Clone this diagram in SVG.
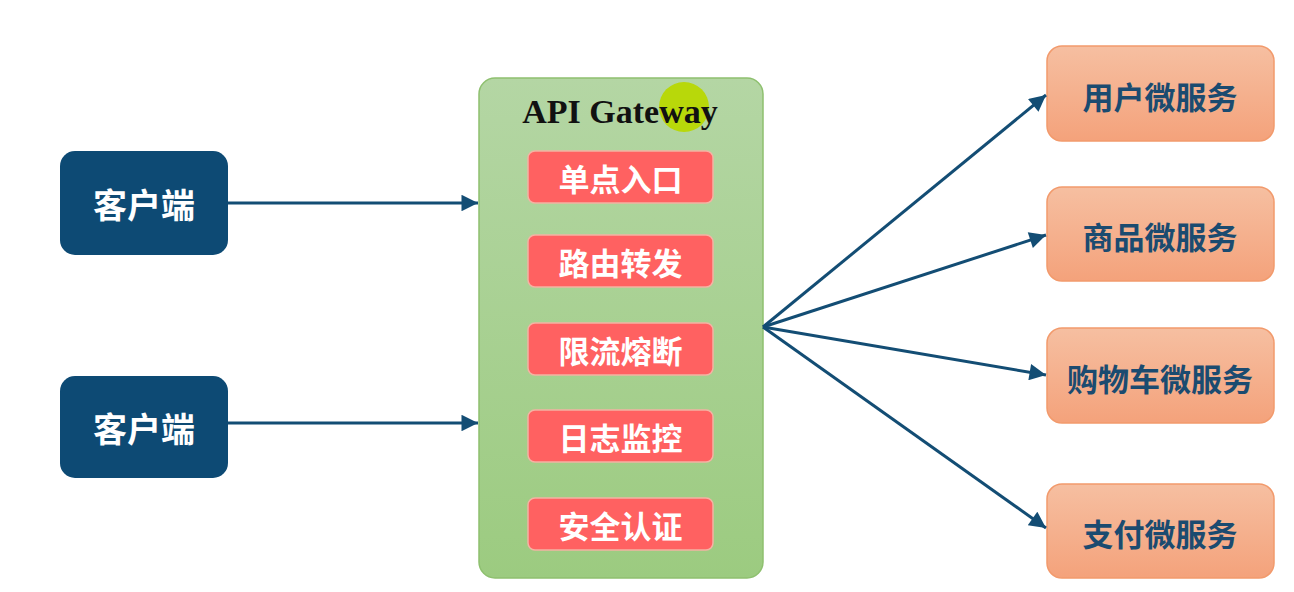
<svg xmlns="http://www.w3.org/2000/svg" width="1294" height="592" viewBox="0 0 1294 592">
<style>
.cn{font-family:"Noto Sans CJK SC","Noto Sans",sans-serif;font-weight:bold;text-anchor:middle;dominant-baseline:central}
.client rect{fill:#0d4a74}
.client text{fill:#ffffff;font-size:34px}
.svc rect{fill:url(#gSvc);stroke:#f29a6c;stroke-width:1.5}
.svc text{fill:#1b4b70;font-size:31px}
.feat rect{fill:#ff6161;stroke:#f4b3a3;stroke-width:1.5}
.feat text{fill:#ffffff;font-size:31px}
.conn line{stroke:#134d74;stroke-width:3;fill:none}
</style>
<defs>
<linearGradient id="gSvc" x1="0" y1="0" x2="0" y2="1">
<stop offset="0" stop-color="#f6bfa1"/>
<stop offset="1" stop-color="#f4a27b"/>
</linearGradient>
<linearGradient id="gGw" x1="0" y1="0" x2="0" y2="1">
<stop offset="0" stop-color="#b4d6a4"/>
<stop offset="1" stop-color="#9ccb80"/>
</linearGradient>
<marker id="arr" viewBox="0 0 10 10" refX="10" refY="5" markerWidth="6" markerHeight="5.5" orient="auto" markerUnits="strokeWidth">
<path d="M0,0 L10,5 L0,10 z" fill="#134d74"/>
</marker>
</defs>
<rect width="1294" height="592" fill="#ffffff"/>

<g id="gateway">
<rect x="479" y="78" width="284" height="500" rx="16" fill="url(#gGw)" stroke="#8ec06f" stroke-width="1.5"/>
<circle cx="684" cy="107" r="25" fill="#b8d80a"/>
<text x="620" y="123" font-family="'Liberation Serif',serif" font-weight="bold" font-size="34" text-anchor="middle" fill="#111111">API Gateway</text>
</g>

<g id="feat1" class="feat"><rect x="528" y="151" width="185" height="52" rx="7"/><text class="cn" x="620.5" y="177">单点入口</text></g>
<g id="feat2" class="feat"><rect x="528" y="235" width="185" height="52" rx="7"/><text class="cn" x="620.5" y="261">路由转发</text></g>
<g id="feat3" class="feat"><rect x="528" y="323" width="185" height="52" rx="7"/><text class="cn" x="620.5" y="349">限流熔断</text></g>
<g id="feat4" class="feat"><rect x="528" y="410" width="185" height="52" rx="7"/><text class="cn" x="620.5" y="436">日志监控</text></g>
<g id="feat5" class="feat"><rect x="528" y="498" width="185" height="52" rx="7"/><text class="cn" x="620.5" y="524">安全认证</text></g>

<g id="client1" class="client"><rect x="60" y="151" width="168" height="104" rx="15"/><text class="cn" x="144" y="203">客户端</text></g>
<g id="client2" class="client"><rect x="60" y="376" width="168" height="102" rx="15"/><text class="cn" x="144" y="427">客户端</text></g>

<g id="svc1" class="svc"><rect x="1047" y="46" width="227" height="95" rx="15"/><text class="cn" x="1160" y="95">用户微服务</text></g>
<g id="svc2" class="svc"><rect x="1047" y="187" width="227" height="94" rx="15"/><text class="cn" x="1160" y="235">商品微服务</text></g>
<g id="svc3" class="svc"><rect x="1047" y="328" width="227" height="95" rx="15"/><text class="cn" x="1160" y="377">购物车微服务</text></g>
<g id="svc4" class="svc"><rect x="1047" y="484" width="227" height="94" rx="15"/><text class="cn" x="1160" y="532">支付微服务</text></g>

<g id="connectors" class="conn">
<line x1="228" y1="203" x2="478" y2="203" marker-end="url(#arr)"/>
<line x1="228" y1="423" x2="478" y2="423" marker-end="url(#arr)"/>
<line x1="763" y1="327" x2="1046" y2="95" marker-end="url(#arr)"/>
<line x1="763" y1="327" x2="1046" y2="235" marker-end="url(#arr)"/>
<line x1="763" y1="327" x2="1046" y2="375" marker-end="url(#arr)"/>
<line x1="763" y1="327" x2="1046" y2="528" marker-end="url(#arr)"/>
</g>
</svg>
